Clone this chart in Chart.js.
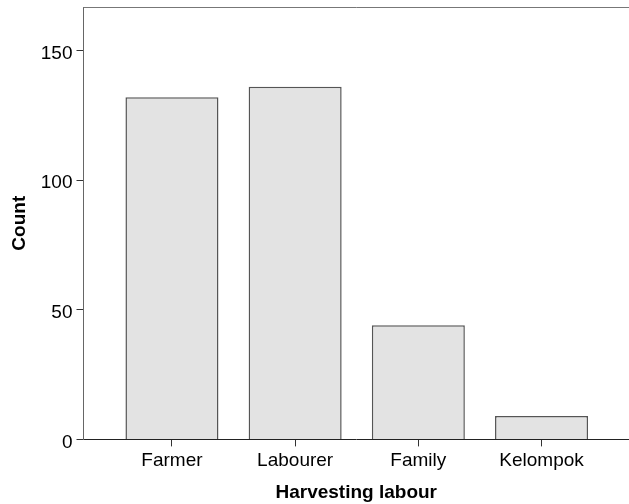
<!DOCTYPE html>
<html lang="en">
<head>
    <meta charset="UTF-8">
    <title>Harvesting labour</title>
    <style>
body {
    margin: 0;
    padding: 0;
    background-color: #fff;
}

#wrap {
    width: 629px;
    height: 504px;
}
    </style>
</head>
<body>
    <div id="wrap">
        <canvas id="barChart"></canvas>
    </div>

    <script src="https://cdn.jsdelivr.net/npm/chart.js"></script>
    <script>
        // Categories and counts
        const categories = ['Farmer', 'Labourer', 'Family', 'Kelompok'];
        const counts = [132, 136, 44, 9];
        const yTicks = [0, 50, 100, 150];

        const fontFamily = "'Liberation Sans', Arial, sans-serif";

        // Top border of the plot frame
        const framePlugin = {
            id: 'frame',
            afterDraw(chart) {
                const ctx = chart.ctx;
                const area = chart.chartArea;
                ctx.save();
                ctx.strokeStyle = '#777';
                ctx.lineWidth = 1;
                ctx.beginPath();
                ctx.moveTo(area.left, area.top + 0.5);
                ctx.lineTo(area.right, area.top + 0.5);
                ctx.stroke();
                ctx.restore();
            }
        };

        const ctx = document.getElementById('barChart').getContext('2d');

        const barChart = new Chart(ctx, {
            type: 'bar',
            data: {
                datasets: [{
                    label: 'Count',
                    data: counts.map((c, i) => ({ x: i + 1, y: c })),
                    backgroundColor: '#e3e3e3',
                    borderColor: '#555',
                    borderWidth: 1.5,
                    barPercentage: 0.755,
                    categoryPercentage: 1
                }]
            },
            options: {
                responsive: true,
                maintainAspectRatio: false,
                animation: false,
                layout: {
                    padding: { left: 5, right: 0, top: 7, bottom: 0 }
                },
                plugins: {
                    legend: { display: false },
                    tooltip: { enabled: false }
                },
                scales: {
                    x: {
                        type: 'linear',
                        offset: false,
                        min: 0.282,
                        max: 4.71,
                        afterBuildTicks: (scale) => {
                            scale.ticks = categories.map((c, i) => ({ value: i + 1 }));
                        },
                        grid: {
                            offset: false,
                            drawOnChartArea: false,
                            tickLength: 7,
                            color: '#333'
                        },
                        border: { color: '#222' },
                        ticks: {
                            padding: 3,
                            maxRotation: 0,
                            color: '#000',
                            font: { family: fontFamily, size: 19 },
                            callback: (v) => categories[v - 1]
                        },
                        title: {
                            display: true,
                            text: 'Harvesting labour',
                            color: '#000',
                            font: { family: fontFamily, size: 19, weight: 'bold' },
                            padding: { top: 6, bottom: 0 }
                        }
                    },
                    y: {
                        min: 0,
                        max: 166.8,
                        afterBuildTicks: (scale) => {
                            scale.ticks = yTicks.map(v => ({ value: v }));
                        },
                        afterFit: (scale) => {
                            scale.paddingTop = 0;
                            scale.paddingBottom = 0;
                        },
                        grid: {
                            drawOnChartArea: false,
                            tickLength: 7,
                            color: '#333'
                        },
                        border: { color: '#666' },
                        ticks: {
                            padding: 4,
                            labelOffset: 3,
                            color: '#000',
                            font: { family: fontFamily, size: 19 }
                        },
                        title: {
                            display: true,
                            text: 'Count',
                            color: '#000',
                            font: { family: fontFamily, size: 19, weight: 'bold' },
                            padding: { top: 3, bottom: 6 }
                        }
                    }
                }
            },
            plugins: [framePlugin]
        });
    </script>
</body>
</html>
